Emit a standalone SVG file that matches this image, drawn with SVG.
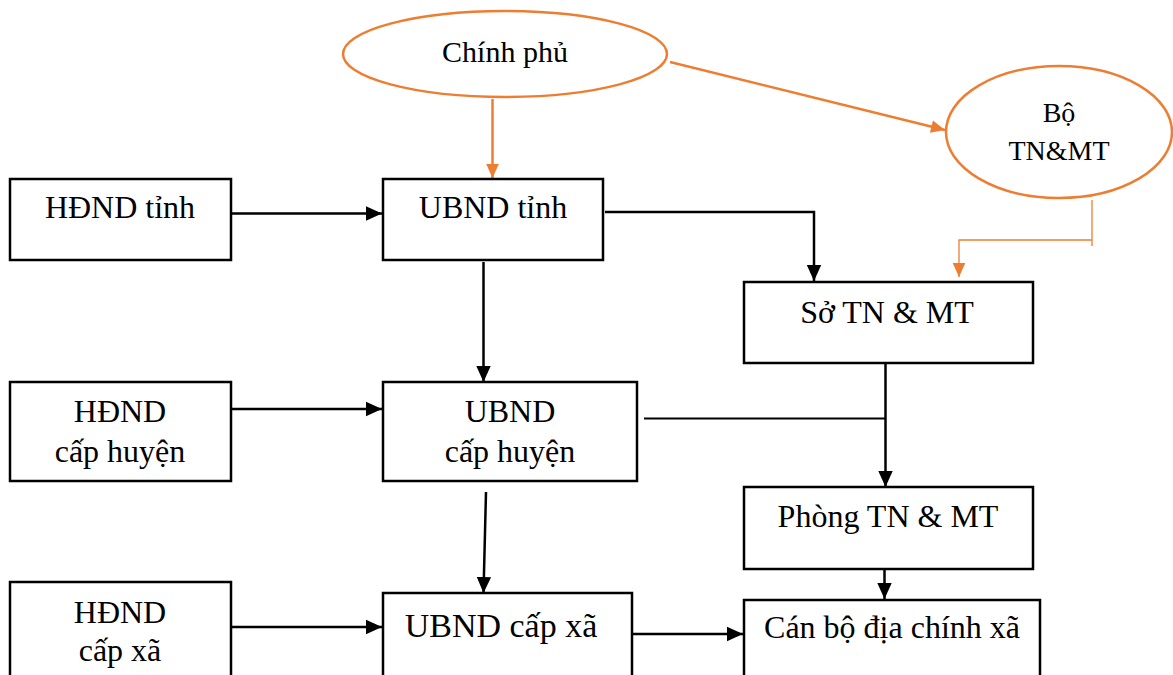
<svg xmlns="http://www.w3.org/2000/svg" width="1173" height="675" viewBox="0 0 1173 675">
<defs>
<style>
.box{fill:#fff;stroke:#000;stroke-width:2.5}
.ell{fill:#fff;stroke:#ED7D31;stroke-width:2.5}
text{font-family:"Liberation Serif","Times New Roman",serif;fill:#000;text-anchor:middle}
.t{font-size:32px}
.k{stroke:#000;stroke-width:2.5;fill:none}
.o{stroke:#ED7D31;stroke-width:2.5;fill:none}
.o1{stroke:#ED7D31;stroke-width:1.3;fill:none}
</style>
<marker id="ab" viewBox="0 0 10 10" refX="10" refY="5" markerUnits="userSpaceOnUse" markerWidth="16" markerHeight="16" orient="auto"><path d="M0,0.5 L10,5 L0,9.5 z" fill="#000"/></marker>
<marker id="ao" viewBox="0 0 10 10" refX="10" refY="5" markerUnits="userSpaceOnUse" markerWidth="16" markerHeight="14" orient="auto"><path d="M0,0.5 L10,5 L0,9.5 z" fill="#ED7D31"/></marker>
</defs>
<rect width="1173" height="675" fill="#fff"/>
<g id="connectors">
<line class="o" x1="492.5" y1="99" x2="492.5" y2="178" marker-end="url(#ao)"/>
<line class="o" x1="670" y1="62" x2="945" y2="130" marker-end="url(#ao)"/>
<polyline class="o1" points="1092,200 1092,246"/>
<polyline class="o1" points="1092,240 959,240 959,277" marker-end="url(#ao)"/>
<line class="k" x1="231" y1="213.5" x2="382" y2="213.5" marker-end="url(#ab)"/>
<polyline class="k" points="605,212 814,212 814,281" marker-end="url(#ab)"/>
<line class="k" x1="483.5" y1="262" x2="483.5" y2="382" marker-end="url(#ab)"/>
<line class="k" x1="231" y1="409" x2="382" y2="409" marker-end="url(#ab)"/>
<line class="k" x1="644" y1="418.5" x2="885.5" y2="418.5" style="stroke-width:2"/>
<line class="k" x1="885.5" y1="364" x2="885.5" y2="487" marker-end="url(#ab)"/>
<line class="k" x1="486" y1="492" x2="483.5" y2="593" marker-end="url(#ab)"/>
<line class="k" x1="231" y1="627" x2="382" y2="627" marker-end="url(#ab)"/>
<line class="k" x1="632" y1="634" x2="743" y2="634" marker-end="url(#ab)"/>
<line class="k" x1="884.5" y1="569" x2="884.5" y2="599" marker-end="url(#ab)"/>
</g>
<g id="chinh-phu"><ellipse class="ell" cx="505" cy="54" rx="162" ry="43"/><text x="505" y="62" style="font-size:30px">Chính phủ</text></g>
<g id="bo-tnmt"><ellipse class="ell" cx="1059" cy="132" rx="113" ry="66"/><text x="1059" y="122" style="font-size:28px">Bộ</text><text x="1059" y="160" style="font-size:28px">TN&amp;MT</text></g>
<g id="hdnd-tinh"><rect class="box" x="10" y="179" width="221" height="81"/><text class="t" x="120" y="218">HĐND tỉnh</text></g>
<g id="ubnd-tinh"><rect class="box" x="383" y="179" width="220" height="81"/><text class="t" x="493" y="218">UBND tỉnh</text></g>
<g id="so-tnmt"><rect class="box" x="744" y="282" width="289" height="81"/><text class="t" x="887" y="323">Sở TN &amp; MT</text></g>
<g id="hdnd-huyen"><rect class="box" x="10" y="382" width="221" height="99"/><text class="t" x="120" y="422">HĐND</text><text class="t" x="120" y="462">cấp huyện</text></g>
<g id="ubnd-huyen"><rect class="box" x="383" y="382" width="254" height="99"/><text class="t" x="510" y="422">UBND</text><text class="t" x="510" y="462">cấp huyện</text></g>
<g id="phong-tnmt"><rect class="box" x="744" y="487" width="289" height="82"/><text class="t" x="888" y="527">Phòng TN &amp; MT</text></g>
<g id="hdnd-xa"><rect class="box" x="10" y="582" width="221" height="110"/><text class="t" x="120" y="623">HĐND</text><text class="t" x="120" y="661">cấp xã</text></g>
<g id="ubnd-xa"><rect class="box" x="383" y="593" width="249" height="100"/><text x="501" y="637" style="font-size:34px">UBND cấp xã</text></g>
<g id="can-bo"><rect class="box" x="744" y="600" width="296" height="100"/><text class="t" x="892" y="638">Cán bộ địa chính xã</text></g>
</svg>
